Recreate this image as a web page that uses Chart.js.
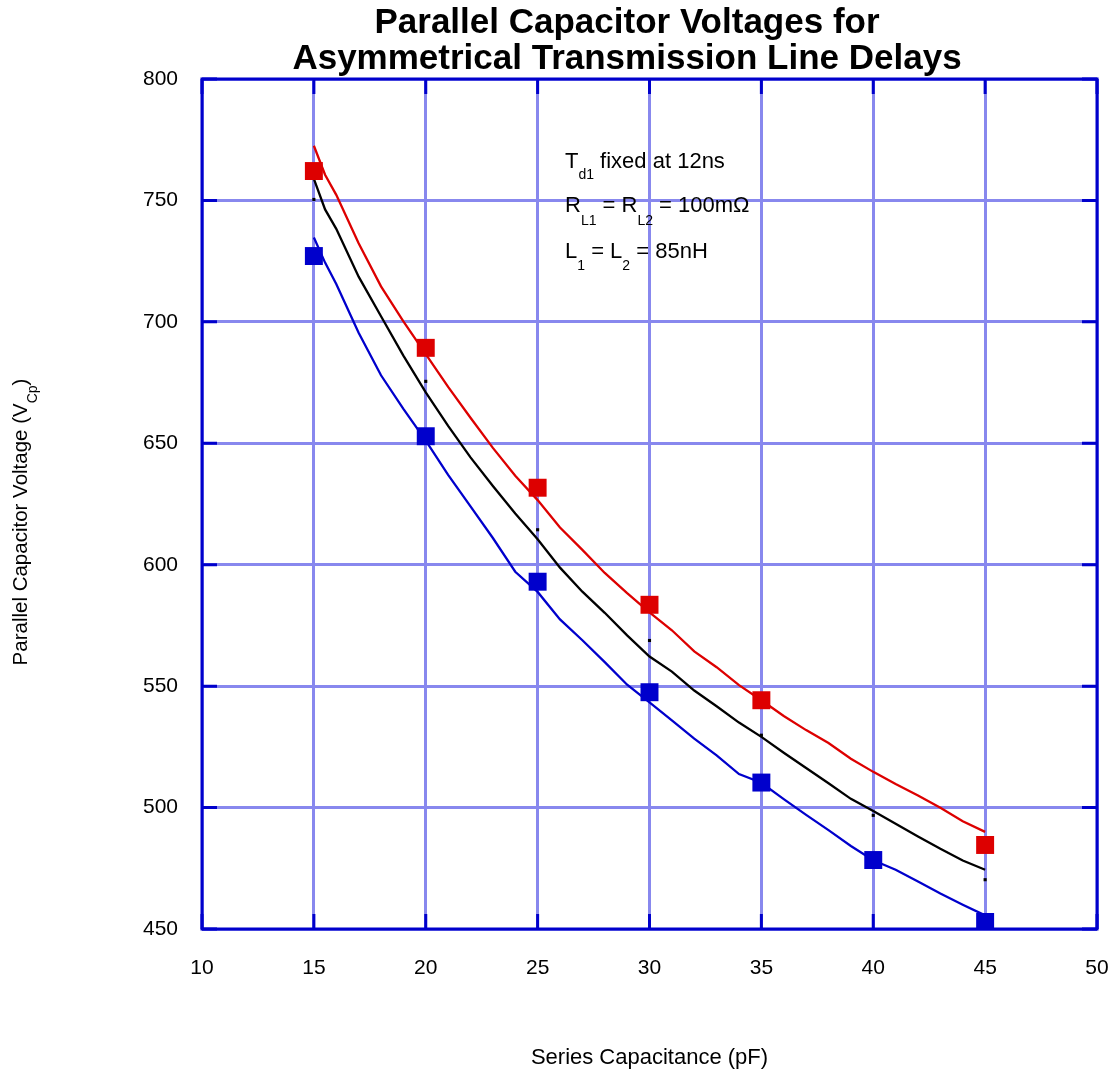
<!DOCTYPE html>
<html>
<head>
<meta charset="utf-8">
<script src="https://cdn.jsdelivr.net/npm/chart.js@4/dist/chart.umd.min.js"></script>
<style>
  html, body { margin: 0; padding: 0; background: #ffffff; }
  #wrap { width: 1114px; height: 1076px; }
</style>
</head>
<body>
<div id="wrap"><canvas id="chart" width="1114" height="1076"></canvas></div>
<script>
// Series capacitance (pF) sample points for the simulated curves
const curveCap = [15, 15.5, 16, 17, 18, 19, 20, 21, 22, 23, 24, 25, 26, 27, 28, 29, 30,
                  31, 32, 33, 34, 35, 36, 37, 38, 39, 40, 41, 42, 43, 44, 45];
// Simulated parallel capacitor voltage (V)
const redCurve = [772.5, 760.6, 752.3, 732.4, 714.6, 700.2, 686.7, 673.2, 660.5, 648.1, 636.6, 626.6,
                  615.3, 606.1, 596.6, 588.3, 580.4, 573.0, 564.3, 557.8, 550.4, 544.2, 537.7, 531.9,
                  526.6, 520.1, 514.7, 509.7, 505.0, 499.9, 494.4, 490.0];
const blackCurve = [758.9, 746.3, 738.3, 718.6, 702.3, 686.1, 671.0, 657.2, 644.2, 632.4, 621.1, 610.5,
                    598.8, 588.9, 580.2, 570.9, 562.2, 556.0, 548.2, 541.7, 535.0, 529.1, 522.6, 516.3,
                    510.0, 503.6, 498.6, 493.3, 488.1, 483.0, 478.2, 474.4];
const blueCurve = [734.7, 724.4, 715.6, 695.5, 678.0, 664.2, 651.1, 637.0, 624.0, 611.0, 597.1, 588.8,
                   577.5, 568.9, 559.9, 550.6, 543.3, 535.9, 528.4, 521.5, 513.8, 510.2, 503.5, 497.0,
                   490.7, 484.2, 478.3, 474.4, 469.6, 464.6, 460.0, 455.6];

// Measured points
const redCap = [15, 20, 25, 30, 35, 45];
const redMeasured = [762.1, 689.3, 631.7, 583.5, 544.2, 484.6];
const blueCap = [15, 20, 25, 30, 35, 40, 45];
const blueMeasured = [727.1, 652.9, 593.0, 547.5, 510.3, 478.4, 452.9];
const dotCap = [15, 20, 25, 30, 35, 40, 45];
const blackDots = [750.4, 675.5, 614.4, 568.8, 529.8, 496.8, 470.3];

// Axis ticks
const xTicks = [10, 15, 20, 25, 30, 35, 40, 45, 50];
const yTicks = [450, 500, 550, 600, 650, 700, 750, 800];

const FONT = "'Liberation Sans', Arial, Helvetica, sans-serif";
const FRAME = '#0000cc';
const GRID = '#8888ee';
const RED = '#dd0000';
const BLUE = '#0000cc';

const pts = (xs, ys) => xs.map((x, i) => ({ x: x, y: ys[i] }));

// Draws a run of [text, isSubscript] pieces starting at (x, y)
function drawRuns(ctx, runs, x, y, size, subSize, subDrop) {
  let cx = x;
  runs.forEach(([t, sub]) => {
    ctx.font = (sub ? subSize : size) + 'px ' + FONT;
    ctx.fillText(t, cx, sub ? y + subDrop : y);
    cx += ctx.measureText(t).width;
  });
  return cx - x;
}
function runsWidth(ctx, runs, size, subSize) {
  let w = 0;
  runs.forEach(([t, sub]) => {
    ctx.font = (sub ? subSize : size) + 'px ' + FONT;
    w += ctx.measureText(t).width;
  });
  return w;
}

const framePlugin = {
  id: 'frame',
  beforeDatasetsDraw(chart) {
    const { ctx, chartArea: a, scales } = chart;
    ctx.save();
    ctx.strokeStyle = FRAME;
    ctx.lineWidth = 3;
    const len = 15;
    ctx.beginPath();
    xTicks.forEach(v => {
      const px = scales.x.getPixelForValue(v);
      ctx.moveTo(px, a.bottom); ctx.lineTo(px, a.bottom - len);
      ctx.moveTo(px, a.top); ctx.lineTo(px, a.top + len);
    });
    yTicks.forEach(v => {
      const py = scales.y.getPixelForValue(v);
      ctx.moveTo(a.left, py); ctx.lineTo(a.left + len, py);
      ctx.moveTo(a.right, py); ctx.lineTo(a.right - len, py);
    });
    ctx.stroke();
    ctx.strokeRect(a.left, a.top, a.right - a.left, a.bottom - a.top);
    ctx.restore();
  }
};

const textPlugin = {
  id: 'texts',
  afterDraw(chart) {
    const { ctx, chartArea: a } = chart;
    ctx.save();
    ctx.fillStyle = '#000000';
    ctx.textBaseline = 'alphabetic';

    // Title
    ctx.textAlign = 'center';
    ctx.font = 'bold 35px ' + FONT;
    ctx.fillText('Parallel Capacitor Voltages for', 627, 33);
    ctx.fillText('Asymmetrical Transmission Line Delays', 627, 69);

    // X axis title
    ctx.font = '22px ' + FONT;
    ctx.fillText('Series Capacitance (pF)', (a.left + a.right) / 2, 1064);

    // Y axis title (rotated, with subscript)
    ctx.textAlign = 'left';
    const yRuns = [['Parallel Capacitor Voltage (V', false], ['Cp', true], [')', false]];
    ctx.translate(27, 522);
    ctx.rotate(-Math.PI / 2);
    const w = runsWidth(ctx, yRuns, 20.5, 14);
    drawRuns(ctx, yRuns, -w / 2, 0, 20.5, 14, 10);
    ctx.setTransform(1, 0, 0, 1, 0, 0);

    // Annotation
    drawRuns(ctx, [['T', false], ['d1', true], [' fixed at 12ns', false]], 565, 168, 22, 14, 11);
    drawRuns(ctx, [['R', false], ['L1', true], [' = R', false], ['L2', true], [' = 100m\u03A9', false]], 565, 212, 22, 14, 13);
    drawRuns(ctx, [['L', false], ['1', true], [' = L', false], ['2', true], [' = 85nH', false]], 565, 258, 22, 14, 12);
    ctx.restore();
  }
};

new Chart(document.getElementById('chart'), {
  type: 'scatter',
  data: {
    datasets: [
      { label: 'Red curve', data: pts(curveCap, redCurve), showLine: true, borderColor: RED,
        borderWidth: 2.3, pointRadius: 0, pointHoverRadius: 0, tension: 0, order: 3 },
      { label: 'Black curve', data: pts(curveCap, blackCurve), showLine: true, borderColor: '#000000',
        borderWidth: 2.3, pointRadius: 0, pointHoverRadius: 0, tension: 0, order: 3 },
      { label: 'Blue curve', data: pts(curveCap, blueCurve), showLine: true, borderColor: BLUE,
        borderWidth: 2.3, pointRadius: 0, pointHoverRadius: 0, tension: 0, order: 3 },
      { label: 'Black points', data: pts(dotCap, blackDots), showLine: false, pointStyle: 'rect',
        pointRadius: 2.2, backgroundColor: '#000000', borderWidth: 0, order: 2 },
      { label: 'Red measured', data: pts(redCap, redMeasured), showLine: false, pointStyle: 'rect',
        pointRadius: 12.7, backgroundColor: RED, borderWidth: 0, order: 1 },
      { label: 'Blue measured', data: pts(blueCap, blueMeasured), showLine: false, pointStyle: 'rect',
        pointRadius: 12.7, backgroundColor: BLUE, borderWidth: 0, order: 1 }
    ]
  },
  options: {
    responsive: false,
    animation: false,
    devicePixelRatio: 1,
    layout: { padding: { top: 79, right: 17, left: 0, bottom: 0 } },
    plugins: { legend: { display: false }, tooltip: { enabled: false }, title: { display: false } },
    scales: {
      x: {
        type: 'linear', min: 10, max: 50,
        afterBuildTicks: s => { s.ticks = xTicks.map(v => ({ value: v })); },
        afterFit: s => { s.height = 147; s.paddingLeft = 0; s.paddingRight = 0; },
        ticks: { color: '#000000', font: { family: FONT, size: 21 }, padding: 27, maxRotation: 0 },
        grid: { color: GRID, lineWidth: 3, drawTicks: false },
        border: { display: false }
      },
      y: {
        type: 'linear', min: 450, max: 800,
        afterBuildTicks: s => { s.ticks = yTicks.map(v => ({ value: v })); },
        afterFit: s => { s.width = 202; s.paddingTop = 0; s.paddingBottom = 0; },
        ticks: { color: '#000000', font: { family: FONT, size: 21 }, padding: 24 },
        grid: { color: GRID, lineWidth: 3, drawTicks: false },
        border: { display: false }
      }
    }
  },
  plugins: [framePlugin, textPlugin]
});
</script>
</body>
</html>
